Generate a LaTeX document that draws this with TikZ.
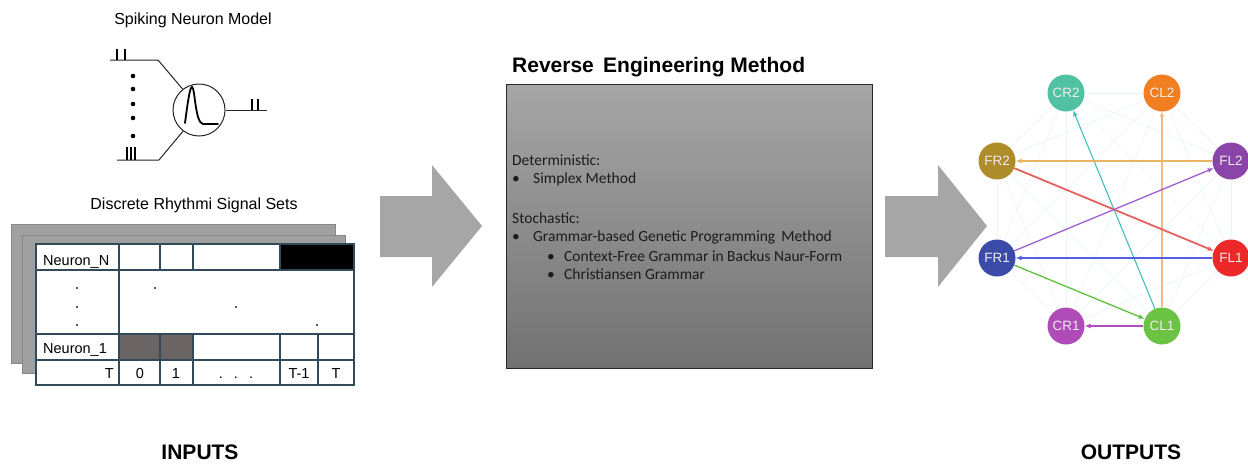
\documentclass[tikz,border=0pt]{standalone}
\usepackage{fontspec}
\setmainfont{Liberation Sans}
\newfontfamily\carlito{Carlito}
\usetikzlibrary{arrows.meta}
\definecolor{tline}{RGB}{50,75,90}
\definecolor{sheet}{RGB}{160,160,160}
\definecolor{sheetb}{RGB}{135,135,135}
\definecolor{cellg}{RGB}{107,100,100}
\definecolor{bigarrow}{RGB}{166,166,166}
\definecolor{boxtop}{RGB}{166,166,166}
\definecolor{boxbot}{RGB}{114,114,114}
\definecolor{boxtext}{RGB}{28,28,28}
\definecolor{cCRtwo}{RGB}{80,194,162}
\definecolor{cCLtwo}{RGB}{240,127,34}
\definecolor{cFRtwo}{RGB}{174,140,42}
\definecolor{cFLtwo}{RGB}{139,69,168}
\definecolor{cFRone}{RGB}{60,75,168}
\definecolor{cFLone}{RGB}{236,40,40}
\definecolor{cCRone}{RGB}{176,76,184}
\definecolor{cCLone}{RGB}{108,194,67}
\definecolor{eTeal}{RGB}{64,192,190}
\definecolor{eOrange}{RGB}{246,184,128}
\definecolor{eYellow}{RGB}{232,180,96}
\definecolor{eRed}{RGB}{232,96,96}
\definecolor{ePurple}{RGB}{160,96,208}
\definecolor{eBlue}{RGB}{80,96,224}
\definecolor{eGreen}{RGB}{96,192,64}
\definecolor{eMagenta}{RGB}{176,80,192}
\definecolor{faintc}{RGB}{233,244,251}
\tikzset{
  txt/.style={inner sep=0pt, anchor=base, font=\fontsize{16}{19}\selectfont},
  tabtxt/.style={inner sep=0pt, anchor=base, font=\fontsize{14.5}{17}\selectfont},
  bigtitle/.style={inner sep=0pt, anchor=base, font=\fontsize{21}{25}\selectfont\bfseries},
  boxline/.style={inner sep=0pt, anchor=base west, text=boxtext, font=\carlito\fontsize{15.5}{18}\selectfont},
  gnode/.style={circle, minimum size=37pt, inner sep=0pt, text={rgb,255:red,236;green,236;blue,236}, font=\fontsize{13.5}{15}\selectfont},
  gedge/.style={line width=1.3pt, -{Latex[length=6pt,width=5pt]}},
  faint/.style={draw=faintc, line width=0.6pt},
  tl/.style={draw=tline, line width=1.1pt},
  spike/.style={line width=2pt, line cap=butt},
  wire/.style={line width=1pt, draw=black!85}
}
\begin{document}
\begin{tikzpicture}[x=1pt,y=-1pt]
\useasboundingbox[fill=white] (0,0) rectangle (1248,464);

% ---------- Spiking neuron model ----------
\node[txt] (tsnm) at (193,24) {Spiking Neuron Model};
\node[circle, draw=black!85, line width=1pt, minimum size=52pt, inner sep=0pt] (nc) at (199,110) {};
\coordinate (tin0) at (110,60);
\coordinate (tin1) at (158,60);
\coordinate (bin0) at (117,160);
\coordinate (bin1) at (159,160);
\coordinate (out1) at (267,110);
\draw[wire] (tin0) -- (tin1) -- (nc.128);
\draw[wire] (bin0) -- (bin1) -- (nc.233);
\draw[wire] (nc.east) -- (out1);
\draw[spike] (117,49) -- (117,60) (125,49) -- (125,60);
\draw[spike] (127,147) -- (127,160) (131,147) -- (131,160) (135,147) -- (135,160);
\draw[spike] (252,99) -- (252,110) (258,99) -- (258,110);
\foreach \yy in {76,89,104,118,136} \fill (133,\yy) circle (2.3pt);
\draw[line width=1.8pt, line cap=round] (185,123) .. controls (188,100) and (190,87) .. (192,87) .. controls (195,87) and (195,123) .. (203,124) -- (218,124);

% ---------- Discrete signal sets ----------
\node[txt] (tdrs) at (194,209) {Discrete Rhythmi Signal Sets};
\path[fill=sheet, draw=sheetb, line width=0.8pt] (11,224) rectangle (335,363);
\path[fill=sheet, draw=sheetb, line width=0.8pt] (22,235) rectangle (345,373);
\path[fill=white] (36,244) rectangle (354,385);
\fill[black] (280,244) rectangle (354,270);
\fill[cellg] (119,334) rectangle (193,360);
\draw[tl] (36,244) rectangle (354,385);
\draw[tl] (36,270) -- (354,270);
\draw[tl] (36,334) -- (354,334);
\draw[tl] (36,360) -- (354,360);
\draw[tl] (119,244) -- (119,385);
\draw[tl] (160,244) -- (160,270) (193,244) -- (193,270) (280,244) -- (280,270);
\draw[tl] (160,334) -- (160,385) (193,334) -- (193,385) (280,334) -- (280,385) (318,334) -- (318,385);
\node[tabtxt, anchor=base west] (nN) at (43,265) {Neuron\_N};
\node[tabtxt, anchor=base west] (n1) at (43,353) {Neuron\_1};
\foreach \xx/\yy in {77/288,77/307,77/325,155/288,236/307,317/325} \fill[black!85] (\xx,\yy) circle (1.2pt);
\node[tabtxt, anchor=base east] (cT0) at (114,378) {T};
\node[tabtxt] (c0) at (140,378) {0};
\node[tabtxt] (c1) at (176,378) {1};
\node[tabtxt] (cdots) at (236,378) {.\hspace{11pt}.\hspace{11pt}.};
\node[tabtxt] (cTm) at (299,378) {T-1};
\node[tabtxt] (cT) at (336,378) {T};

% ---------- big arrows ----------
\fill[bigarrow] (380,196) -- (432,196) -- (432,165) -- (482,226) -- (432,287) -- (432,257) -- (380,257) -- cycle;
\fill[bigarrow] (885,196) -- (938,196) -- (938,165) -- (987,226) -- (938,287) -- (938,257) -- (885,257) -- cycle;

% ---------- method box ----------
\node[bigtitle, anchor=base west] (rem) at (512,72) {Reverse\, Engineering Method};
\node[draw={rgb,255:red,40;green,40;blue,40}, line width=1pt, top color=boxtop, bottom color=boxbot, minimum width=366pt, minimum height=284pt, inner sep=0pt] (box) at (689,226) {};
\node[boxline] (l1) at (512,165) {Deterministic:};
\node[boxline] (b2) at (512,183) {•};
\node[boxline] (l2) at (533,183) {Simplex Method};
\node[boxline] (l3) at (512,223) {Stochastic:};
\node[boxline] (b4) at (512,241.5) {•};
\node[boxline] (l4) at (533,241.5) {Grammar-based Genetic Programming\, Method};
\node[boxline] (b5) at (547,261) {•};
\node[boxline] (l5) at (564,261) {Context-Free Grammar in Backus Naur-Form};
\node[boxline] (b6) at (547,279) {•};
\node[boxline] (l6) at (564,279) {Christiansen Grammar};

% ---------- graph ----------
\node[gnode, fill=cCRtwo, alias=g1] (CR2) at (1066,93) {CR2};
\node[gnode, fill=cCLtwo, alias=g2] (CL2) at (1162,93) {CL2};
\node[gnode, fill=cFLtwo, alias=g3] (FL2) at (1231,161) {FL2};
\node[gnode, fill=cFLone, alias=g4] (FL1) at (1231,258) {FL1};
\node[gnode, fill=cCLone, alias=g5] (CL1) at (1162,326) {CL1};
\node[gnode, fill=cCRone, alias=g6] (CR1) at (1066,326) {CR1};
\node[gnode, fill=cFRone, alias=g7] (FR1) at (997,258) {FR1};
\node[gnode, fill=cFRtwo, alias=g8] (FR2) at (997,161) {FR2};
\foreach \i in {1,...,7} {
  \pgfmathtruncatemacro\s{\i+1}
  \foreach \j in {\s,...,8} \draw[faint] (g\i) -- (g\j);
}
\draw[gedge, draw=eTeal, line width=1.1pt, -{Latex[length=6pt,width=5pt,fill=eTeal]}] (CL1) -- (CR2);
\draw[gedge, draw=eOrange, line width=2.6pt, -{Latex[length=5pt,width=5pt]}, color=eOrange] (CL1) -- (CL2);
\draw[gedge, color=eYellow] (FL2) -- (FR2);
\draw[gedge, color=eRed, line width=1.8pt] (FR2) -- (FL1);
\draw[gedge, color=ePurple] (FR1) -- (FL2);
\draw[gedge, color=eBlue] (FL1) -- (FR1);
\draw[gedge, color=eGreen] (FR1) -- (CL1);
\draw[gedge, color=eMagenta, line width=1.8pt] (CL1) -- (CR1);

% ---------- footer ----------
\node[bigtitle] (inp) at (200,459) {INPUTS};
\node[bigtitle] (outp) at (1131,459) {OUTPUTS};
\end{tikzpicture}
\end{document}
